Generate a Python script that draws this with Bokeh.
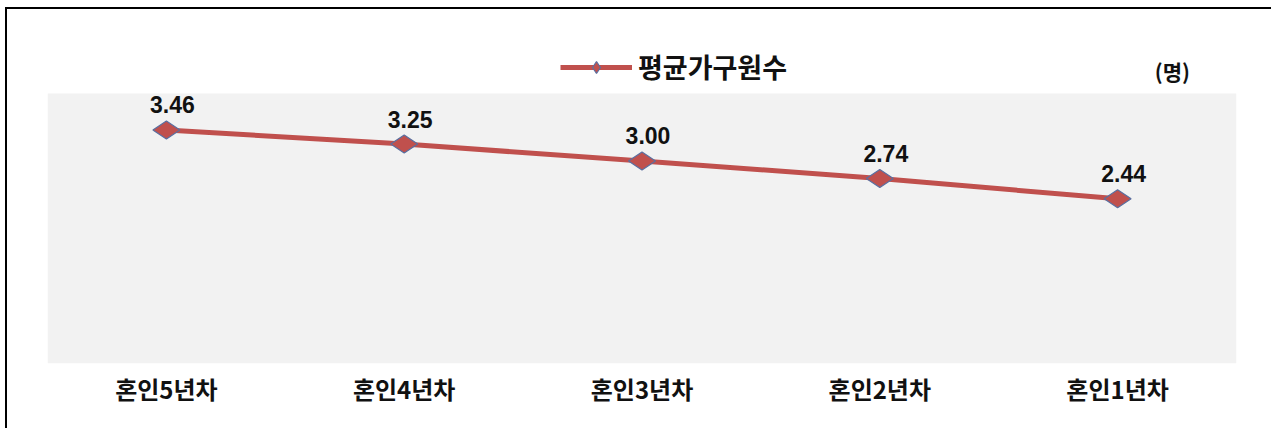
from bokeh.plotting import figure
from bokeh.models import Legend, LegendItem, Label, Range1d, ColumnDataSource, BoxAnnotation
from bokeh.core.properties import value
from bokeh.embed import file_html
from bokeh.resources import INLINE
import math

categories = ["혼인5년차", "혼인4년차", "혼인3년차", "혼인2년차", "혼인1년차"]
avg_members = [3.46, 3.25, 3.00, 2.74, 2.44]
value_labels = ["3.46", "3.25", "3.00", "2.74", "2.44"]
series_name = "평균가구원수"
unit_label = "(명)"

KR = "Noto Sans CJK KR"
LINE_C = "#c0504d"

src = ColumnDataSource(dict(x=categories, y=avg_members, t=value_labels))

p = figure(x_range=categories, y_range=Range1d(0, 4.785), width=1266, height=421,
           output_backend="svg", toolbar_location=None,
           min_border_left=40, min_border_right=37, min_border_top=31, min_border_bottom=67)
p.styles = {"margin-left": "5px", "margin-top": "7px",
            "border-left": "2px solid black", "border-top": "2px solid black"}
p.background_fill_color = "white"
p.border_fill_color = "white"
p.outline_line_color = None
p.xgrid.visible = False
p.ygrid.visible = False
p.yaxis.visible = False

p.add_layout(BoxAnnotation(bottom=0, top=4, fill_color="#f2f2f2", fill_alpha=1,
                           line_color=None, level="underlay"))

ax = p.xaxis[0]
ax.axis_line_color = None
ax.major_tick_line_color = None
ax.minor_tick_line_color = None
ax.major_label_text_font = KR
ax.major_label_text_font_style = "bold"
ax.major_label_text_font_size = "24px"
ax.major_label_text_color = "#111111"
ax.major_label_standoff = 1

ln = p.line("x", "y", source=src, line_color=LINE_C, line_width=5)
sc = p.scatter("x", "y", source=src, marker="diamond", size=27, angle=math.pi / 2,
               fill_color=LINE_C, line_color="#5a6fa0", line_width=1.2)
p.text("x", "y", text="t", source=src, text_font=value("Liberation Sans"),
       text_font_style="bold", text_font_size="23px", text_color="#111111",
       text_align="center", text_baseline="middle", x_offset=6, y_offset=-25)

legend = Legend(items=[LegendItem(label=series_name, renderers=[ln, sc])],
                location=(513, 277), orientation="horizontal",
                label_text_font=KR, label_text_font_style="bold",
                label_text_font_size="27px", label_text_color="#111111",
                glyph_width=72, glyph_height=30, padding=0, margin=0,
                background_fill_alpha=0, border_line_color=None, label_standoff=6)
p.add_layout(legend, "center")

p.add_layout(Label(x=4.73, y=4.34, text=unit_label, text_font=KR,
                   text_font_style="bold", text_font_size="21px", text_color="#111111",
                   text_align="center", text_baseline="middle"))

open("out.html", "w").write(file_html(p, INLINE))
